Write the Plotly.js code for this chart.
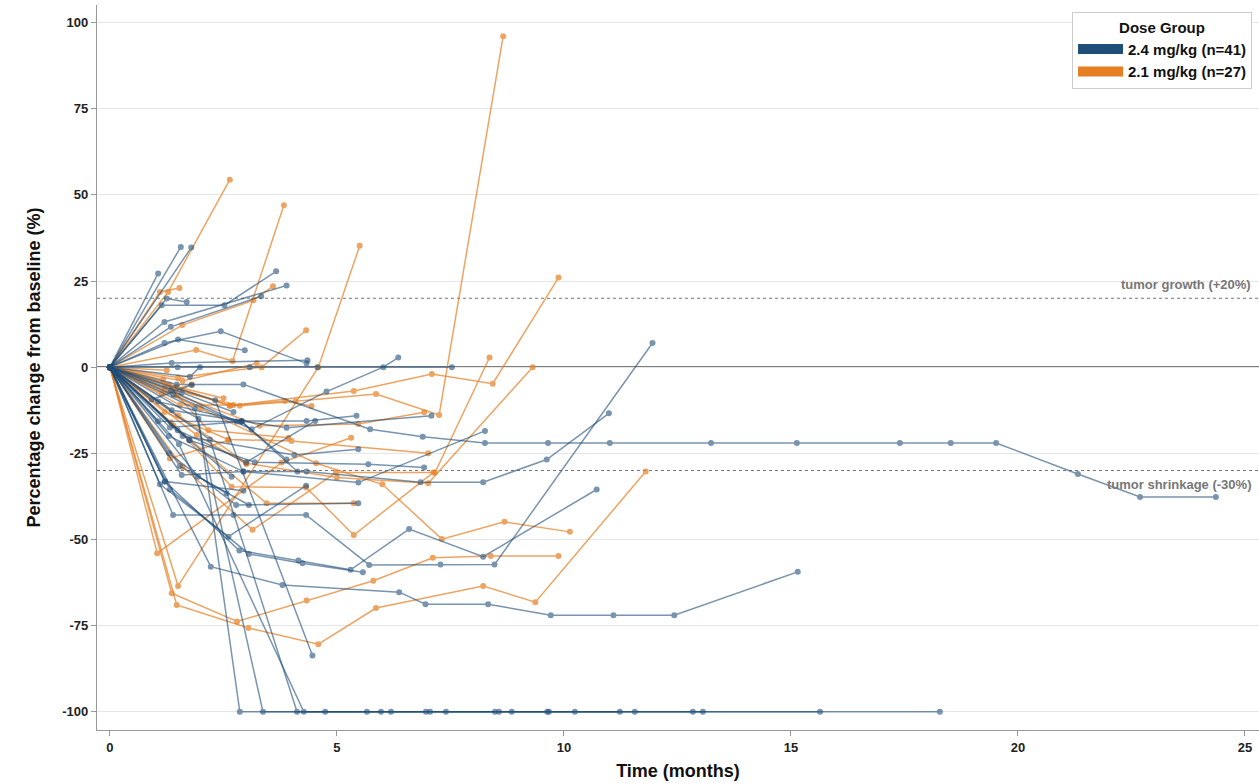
<!DOCTYPE html>
<html>
<head>
<meta charset="utf-8">
<script src="https://cdn.plot.ly/plotly-3.0.1.min.js"></script>
<style>html,body{margin:0;padding:0;background:#fff;}#chart{width:1259px;height:783px;}</style>
</head>
<body>
<div id="chart"></div>
<script>
// ---- Data (months, % change from baseline), one entry per patient ----
const groupNames = ["2.4 mg/kg (n=41)", "2.1 mg/kg (n=27)"];

const highDoseTimes = [
  [0,1.47,2.94,5.73,6.89,8.26,9.65,11.01,13.24,15.13,17.4,18.52,19.52,21.32,22.69,24.36],
  [0,2.22,3.8,6.37,6.95,8.33,9.71,11.09,12.43,15.15],
  [0,1.21,2.85,4.15,5.3,6.59,8.22,10.72],
  [0,1.32,3.06,4.24,5.57],
  [0,1.39,2.72,4.32,5.71,7.28,8.47,11.95],
  [0,2.32,4.46],
  [0,1.95,2.86,4.74,7.05,9.63,12.84,18.28],
  [0,1.87,3.37,5.97,8.57,11.56,15.64],
  [0,2.2,4.12,6.19,7.4,9.67,13.06],
  [0,1.52,4.27,5.66,6.96,8.48,8.85,10.24,11.23],
  [0,1.56],
  [0,1.79],
  [0,1.06],
  [0,1.14,2.52,3.66],
  [0,1.2,3.89],
  [0,1.34,3.33],
  [0,1.25,1.69],
  [0,1.5,2.97],
  [0,1.2,2.44,4.33],
  [0,1.36,4.35],
  [0,1.4,3.12,4.77,6.02,6.35],
  [0,1.49,3.08,4.57,7.53],
  [0,1.06,2.9,4.33,5.43],
  [0,1.3,2.94,5.47,8.26],
  [0,1.58,2.94,4.33,6.84,8.22,9.62,10.99],
  [0,1.75,3.19,5.69,6.92],
  [0,1.36,3.89,7.08],
  [0,1.3,2.78,5.47],
  [0,1.1,2.61,4.32],
  [0,1.6,4.06,5.47],
  [0,1.21,2.94],
  [0,1.06,2.9,3.89],
  [0,1.58,2.72],
  [0,1.75,2.68],
  [0,1.54,2.57],
  [0,0.92,1.8],
  [0,1.32,2.9,4.13],
  [0,1.94,3.06],
  [0,1.76,1.98],
  [0,1.34,2.79],
  [0,1.49,3.0,4.52]
];
const highDoseValues = [
  [0,-5,-5,-18,-20.2,-22,-22,-22,-22,-22,-22,-22,-22,-31,-37.7,-37.7],
  [0,-57.9,-63.2,-65.3,-68.8,-68.8,-72,-72,-72,-59.4],
  [0,-33.2,-53.2,-56.1,-58.8,-47,-55,-35.5],
  [0,-35.5,-54.2,-56.9,-59.5],
  [0,-42.9,-42.9,-42.9,-57.4,-57.3,-57.3,7],
  [0,-9.6,-83.7],
  [0,-15,-100,-100,-100,-100,-100,-100],
  [0,-12,-100,-100,-100,-100,-100],
  [0,-21,-100,-100,-100,-100,-100],
  [0,-22.4,-100,-100,-100,-100,-100,-100,-100],
  [0,34.9],
  [0,34.7],
  [0,27.2],
  [0,18,18,27.8],
  [0,13.1,23.7],
  [0,11.7,20.6],
  [0,19.9,18.9],
  [0,8,4.9],
  [0,7,10.4,1.1],
  [0,1.2,2],
  [0,-8,-18,-7.1,0,2.8],
  [0,0,0,0,0],
  [0,-10,-15.6,-15.6,-14.1],
  [0,-20,-30.3,-33.5,-18.5],
  [0,-31.3,-30.3,-30.3,-33.4,-33.4,-26.8,-13.4],
  [0,-21.2,-27.6,-28.2,-29.1],
  [0,-12.5,-17.6,-14.1],
  [0,-25,-40,-39.5],
  [0,-34,-49.2,-34.4],
  [0,-20,-25.5,-23.8],
  [0,-33.2,-35.9],
  [0,-15.7,-15.8,-26.8],
  [0,-7.4,-13],
  [0,-21.2,-31.8],
  [0,-28.7,-36.6],
  [0,-9.4,-5.2],
  [0,-17.5,-15.8,-30.3],
  [0,-31.8,-40],
  [0,-2.8,0],
  [0,-6.7,-15.8],
  [0,-18.3,-27.6,-15.6]
];

const lowDoseTimes = [
  [0,1.36,2.8,4.33,5.8,7.11,8.39,9.88],
  [0,1.47,3.05,4.59,5.86,8.22,9.37,11.8],
  [0,1.5,4.59,5.5],
  [0,1.04,3.78,5.31],
  [0,1.6,3.14,4.98,7.16,8.36],
  [0,1.5,3.01,5.0,7.01,9.31],
  [0,1.4,3.45,5.37],
  [0,1.2,2.86,4.09,5.86,7.25,8.66],
  [0,1.3,2.64,5.37,7.09,8.43,9.88],
  [0,1.28,2.64],
  [0,1.9,2.7,3.83],
  [0,1.59,3.16,3.59],
  [0,1.5,3.34,4.32],
  [0,1.1,1.53],
  [0,1.47,3.3,5.47,6.92],
  [0,1.2,2.6,4.0,7.01],
  [0,2.0,4.54,6.0,7.31,8.69,10.13],
  [0,1.34,2.68,4.32,5.37,7.12],
  [0,1.6,3.23],
  [0,1.4,2.64,3.85,4.44],
  [0,1.17,2.17,3.93],
  [0,1.32,2.61],
  [0,1.91,3.0],
  [0,1.54,2.72],
  [0,1.14,1.8],
  [0,1.25],
  [0,1.47,2.5]
];
const lowDoseValues = [
  [0,-65.6,-73.8,-67.7,-62,-55.3,-54.8,-54.8],
  [0,-69,-75.7,-80.4,-69.9,-63.5,-68.2,-30.3],
  [0,-63.5,0,35.2],
  [0,-54,-27.7,-20.5],
  [0,-29,-47.2,-30.6,-30.6,2.8],
  [0,-14,-27.9,-32,-33.7,0],
  [0,-17,-39.5,-39.5],
  [0,-6,-11.2,-9.9,-7.8,-13.9,96],
  [0,-5,-11.2,-6.9,-2,-4.8,26],
  [0,21.8,54.4],
  [0,5,1.8,47],
  [0,12.2,19.4,23.5],
  [0,-3,0,10.7],
  [0,21.8,23],
  [0,-8,-17,-16.5,-13.1],
  [0,-13,-21,-21.4,-25],
  [0,-12,-27.9,-34,-49.9,-44.9,-47.8],
  [0,-16,-34.7,-34.9,-48.7,-30.6],
  [0,-4,1.1],
  [0,-6,-11.2,-9.8,-11.3],
  [0,-3.6,-18.3,-20.5],
  [0,-26.5,-21.2],
  [0,-19.7,-28.1],
  [0,-11,-11],
  [0,-7.6,-5],
  [0,-0.9],
  [0,-5.7,-9]
];

const refLines = [20, -30];
const refLabels = ["tumor growth (+20%)", "tumor shrinkage (-30%)"];
const yTicks = [-100,-75,-50,-25,0,25,50,75,100];
const xTicks = [0,5,10,15,20,25];

// ---- Styling ----
const blue = "#1f4e79";
const orange = "#e67e22";

const traces = [];
function addGroup(times, values, color, lineAlpha) {
  times.forEach((t, i) => {
    traces.push({
      type: "scatter", mode: "lines+markers",
      x: t, y: values[i],
      line: {color: color, width: 1.5},
      marker: {color: color, size: 6},
      opacity: lineAlpha,
      showlegend: false, hoverinfo: "skip"
    });
  });
}
addGroup(lowDoseTimes, lowDoseValues, orange, 0.7);
addGroup(highDoseTimes, highDoseValues, blue, 0.6);

// legend entries
[[groupNames[0], blue], [groupNames[1], orange]].forEach(([n, c]) => {
  traces.push({type: "scatter", mode: "lines", x: [null], y: [null], name: n,
    line: {color: c, width: 11}, showlegend: true, hoverinfo: "skip"});
});

const shapes = [
  {type: "line", xref: "paper", x0: 0, x1: 1, yref: "y", y0: 0, y1: 0,
   line: {color: "#555", width: 1.6}, layer: "below"}
];
refLines.forEach(v => shapes.push({type: "line", xref: "paper", x0: 0, x1: 1, yref: "y", y0: v, y1: v,
  line: {color: "#777", width: 1.1, dash: "3px,3px"}, layer: "below"}));

const annotations = refLabels.map((txt, i) => ({
  xref: "paper", x: 0.995, xanchor: "right", yref: "y", y: refLines[i],
  yshift: i === 0 ? 14 : -14, showarrow: false, text: txt,
  font: {family: "Liberation Sans, Arial, sans-serif", size: 13, color: "#777", weight: "bold"}
}));

const tickFont = {family: "Liberation Sans, Arial, sans-serif", size: 13, color: "#222", weight: "bold"};
const layout = {
  width: 1259, height: 783,
  margin: {l: 97, r: 0, t: 5, b: 53},
  paper_bgcolor: "#fff", plot_bgcolor: "#fff",
  font: {family: "Liberation Sans, Arial, sans-serif"},
  xaxis: {
    range: [-0.286, 25.31], tickvals: xTicks, ticktext: xTicks.map(String),
    showgrid: false, zeroline: false, showline: true, linecolor: "#999", linewidth: 1.2,
    ticks: "outside", ticklen: 5, tickcolor: "#999", tickfont: tickFont,
    title: {text: "Time (months)", font: {family: "Liberation Sans, Arial, sans-serif", size: 18, color: "#111", weight: "bold"}, standoff: 10}
  },
  yaxis: {
    range: [-105.3, 105.1], tickvals: yTicks, ticktext: yTicks.map(String),
    showgrid: true, gridcolor: "#e6e6e6", gridwidth: 1, zeroline: false,
    showline: true, linecolor: "#999", linewidth: 1.2,
    ticks: "outside", ticklen: 5, tickcolor: "#999", tickfont: tickFont,
    title: {text: "Percentage change from baseline (%)", font: {family: "Liberation Sans, Arial, sans-serif", size: 18, color: "#111", weight: "bold"}, standoff: 16}
  },
  shapes: shapes,
  annotations: annotations,
  showlegend: true,
  legend: {
    x: 0.994, xanchor: "right", y: 0.99, yanchor: "top",
    bgcolor: "#fff", bordercolor: "#ccc", borderwidth: 1,
    title: {text: "Dose Group", side: "top center", font: {size: 15, color: "#111", weight: "bold"}},
    font: {size: 15, color: "#111", weight: "bold"},
    itemwidth: 45, tracegroupgap: 2
  }
};

Plotly.newPlot("chart", traces, layout, {displayModeBar: false, staticPlot: true});
</script>
</body>
</html>
